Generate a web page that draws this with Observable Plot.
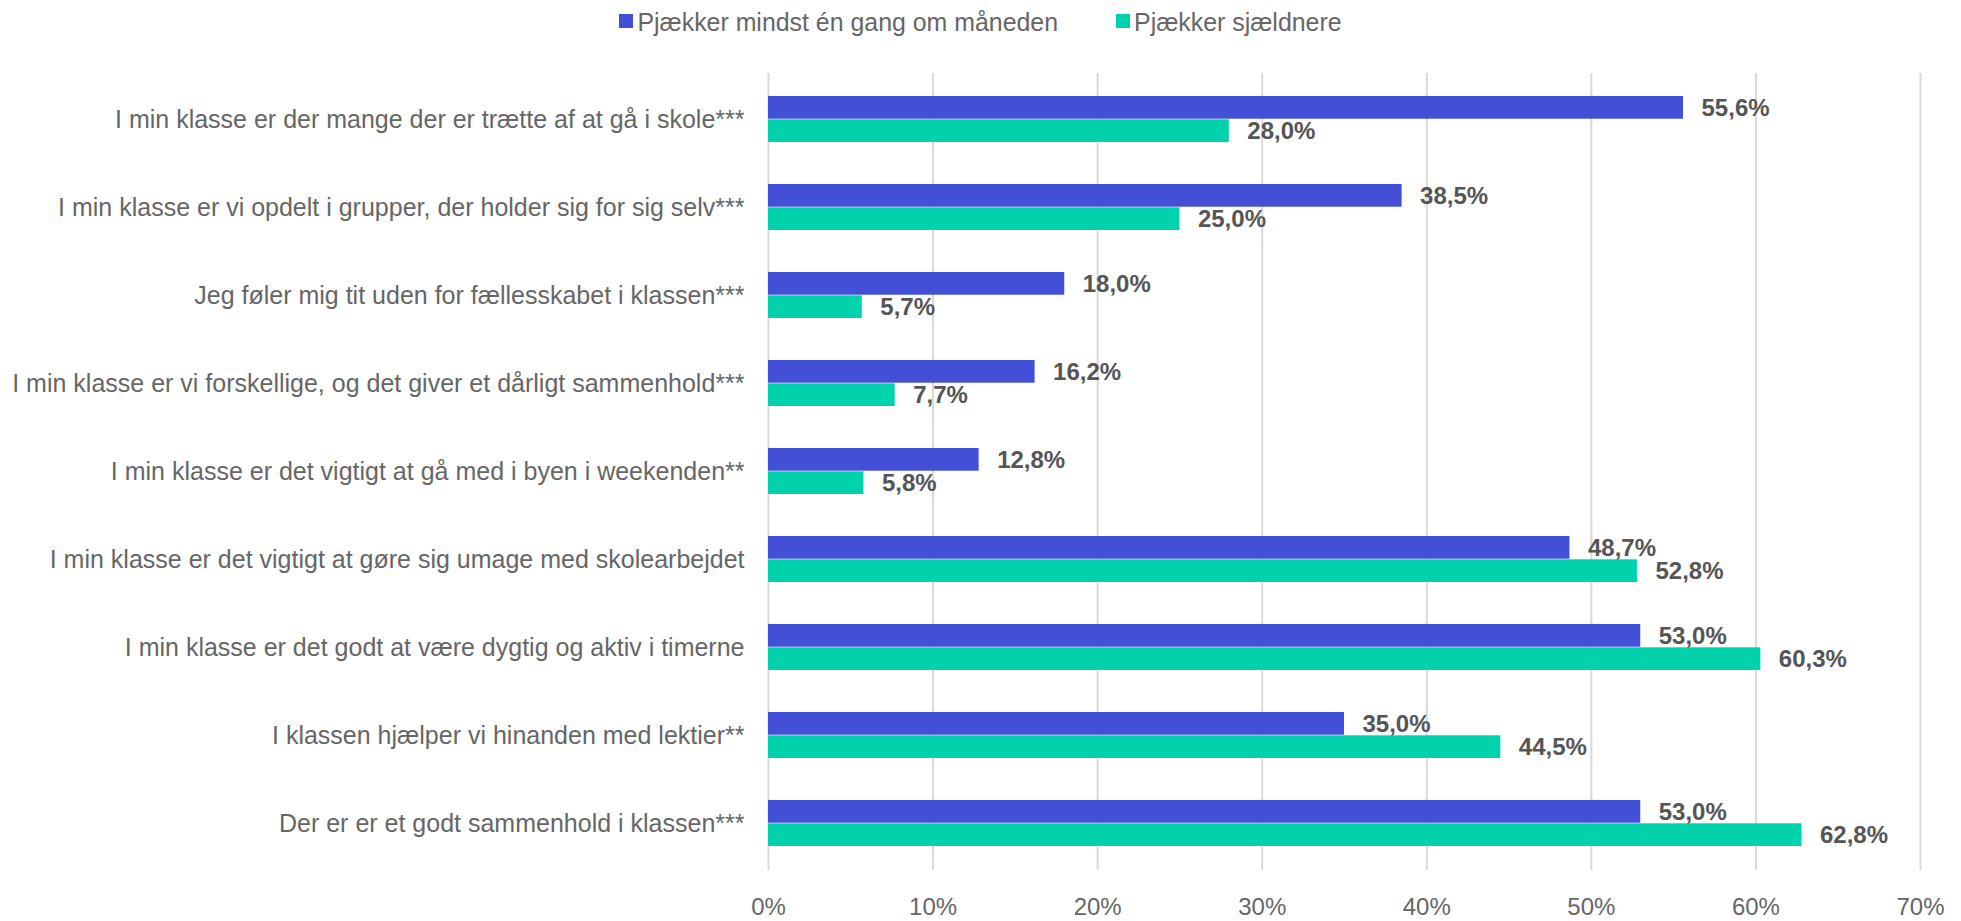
<!DOCTYPE html>
<html><head><meta charset="utf-8">
<script src="https://cdn.jsdelivr.net/npm/d3@7"></script>
<script src="https://cdn.jsdelivr.net/npm/@observablehq/plot@0.6"></script>
<style>
body{margin:0;background:#fff;font-family:"Liberation Sans",Arial,sans-serif;}
#wrap{position:relative;width:1961px;height:921px;overflow:hidden;}
#legend{position:absolute;top:0;left:0;width:1961px;height:44px;display:flex;justify-content:center;align-items:center;gap:58px;font-size:24.9px;color:#666666;}
.item{display:flex;align-items:center;}
.sw{width:14px;height:14px;margin-right:4px;margin-top:-3px;}
</style></head><body>
<div id="wrap"><div id="legend"></div><div id="chart"></div></div>
<script>
const categories = [
  "I min klasse er der mange der er trætte af at gå i skole***",
  "I min klasse er vi opdelt i grupper, der holder sig for sig selv***",
  "Jeg føler mig tit uden for fællesskabet i klassen***",
  "I min klasse er vi forskellige, og det giver et dårligt sammenhold***",
  "I min klasse er det vigtigt at gå med i byen i weekenden**",
  "I min klasse er det vigtigt at gøre sig umage med skolearbejdet",
  "I min klasse er det godt at være dygtig og aktiv i timerne",
  "I klassen hjælper vi hinanden med lektier**",
  "Der er er et godt sammenhold i klassen***"
];
const oftenValues  = [55.6, 38.5, 18.0, 16.2, 12.8, 48.7, 53.0, 35.0, 53.0];
const rarelyValues = [28.0, 25.0, 5.7, 7.7, 5.8, 52.8, 60.3, 44.5, 62.8];
const seriesNames = ["Pjækker mindst én gang om måneden", "Pjækker sjældnere"];
const seriesColors = ["#434FD6", "#00D3AB"];
const xTicks = [0, 10, 20, 30, 40, 50, 60, 70];

const W = 1961, H = 921, mt = 73, mb = 51, ml = 768, mr = 41;
const pInner = 0.4734, pOuter = 0.24;
const step = (H - mt - mb) / (categories.length - pInner + 2 * pOuter);
const bw = step * (1 - pInner);

const rows = categories.map((c, i) => ({cat: c, a: oftenValues[i], b: rarelyValues[i]}));
const fmt = v => v.toFixed(1).replace(".", ",") + "%";

// legend
const legend = document.getElementById("legend");
seriesNames.forEach((n, i) => {
  const it = document.createElement("div"); it.className = "item";
  const sw = document.createElement("div"); sw.className = "sw"; sw.style.background = seriesColors[i];
  const tx = document.createElement("span"); tx.textContent = n;
  it.appendChild(sw); it.appendChild(tx); legend.appendChild(it);
});

const chart = Plot.plot({
  width: W, height: H,
  marginTop: mt, marginBottom: mb, marginLeft: ml, marginRight: mr,
  style: {fontFamily: '"Liberation Sans", Arial, sans-serif', fontSize: "24px", color: "#666666", background: "transparent"},
  x: {domain: [0, 70], ticks: xTicks, tickFormat: d => d + "%"},
  y: {domain: categories, paddingInner: pInner, paddingOuter: pOuter, align: 0.5},
  marks: [
    Plot.gridX(xTicks, {stroke: "#d9d9d9", strokeOpacity: 1, strokeWidth: 2}),
    Plot.barX(rows, {x: "a", y: "cat", fill: seriesColors[0], insetBottom: bw / 2}),
    Plot.barX(rows, {x: "b", y: "cat", fill: seriesColors[1], insetTop: bw / 2}),
    Plot.text(rows, {x: "a", y: "cat", text: d => fmt(d.a), dx: 18, dy: -bw / 4, textAnchor: "start", fontWeight: "bold", fontSize: 24, fill: "#555555"}),
    Plot.text(rows, {x: "b", y: "cat", text: d => fmt(d.b), dx: 18, dy: bw / 4, textAnchor: "start", fontWeight: "bold", fontSize: 24, fill: "#555555"}),
    Plot.axisX(xTicks, {tickSize: 0, tickPadding: 27, label: null, fontSize: 24, tickFormat: d => d + "%"}),
    Plot.axisY({tickSize: 0, tickPadding: 24, label: null, fontSize: 25})
  ]
});
document.getElementById("chart").appendChild(chart);
</script>
</body></html>
